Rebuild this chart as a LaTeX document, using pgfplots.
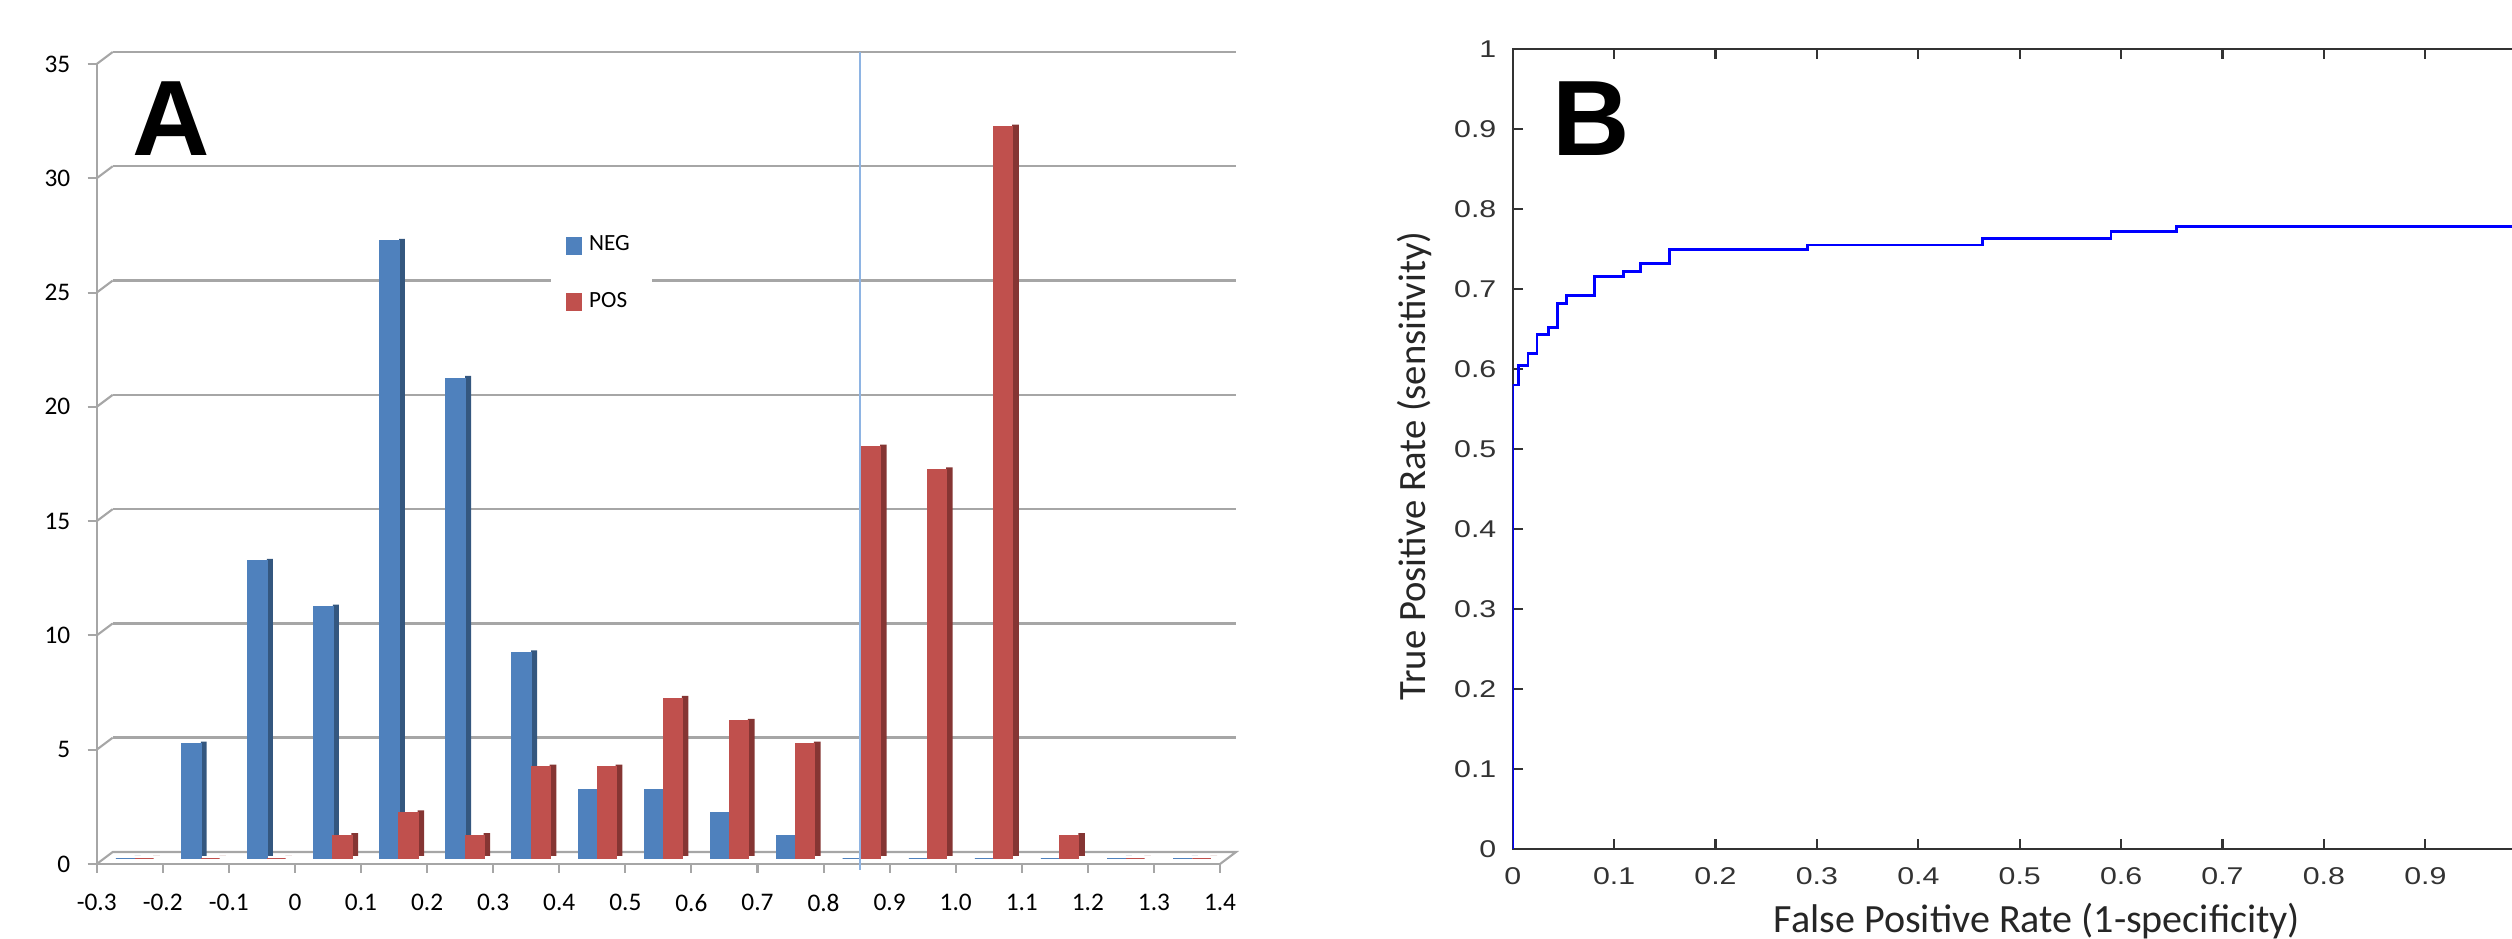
\documentclass[border=0pt]{standalone}
\usepackage{pgfplots}
\usepackage{pgfplotstable}
\pgfplotsset{compat=1.18}
\usepackage{fontspec}
\setmainfont{Carlito}
\newfontfamily\lib{Liberation Sans}
\newfontfamily\libw[FakeStretch=1.25]{Liberation Sans}
\definecolor{negc}{HTML}{4F81BD}
\definecolor{negd}{HTML}{34577F}
\definecolor{posc}{HTML}{C0504D}
\definecolor{posd}{HTML}{853533}
\definecolor{gridg}{HTML}{A6A6A6}
\definecolor{vline}{HTML}{8EB4E3}

\pgfplotstableread{
k neg pos
0 0 0
1 5 0
2 13 0
3 11 1
4 27 2
5 21 1
6 9 4
7 3 4
8 3 7
9 2 6
10 1 5
11 0 18
12 0 17
13 0 32
14 0 1
15 0 0
16 0 0
}\hist

\begin{document}
\begin{tikzpicture}
\useasboundingbox (0,0) rectangle (251.2mm,93.9mm);
\clip (0,0) rectangle (251.2mm,93.9mm);

% back wall grid of A
\begin{axis}[at={(11.27mm,8.7mm)}, anchor=south west, scale only axis,
  width=112.33mm, height=80mm, xmin=0, xmax=17, ymin=0, ymax=35,
  axis line style={draw=none}, tick style={draw=none},
  xtick=\empty, ytick={5,10,...,35}, yticklabels={},
  ymajorgrids, grid style={gridg, line width=0.7pt}]
\addplot[draw=none] coordinates {(0,0)};
\end{axis}

% histogram A
\begin{axis}[at={(9.67mm,7.5mm)}, anchor=south west, scale only axis,
  width=112.33mm, height=80mm, xmin=0, xmax=17, ymin=0, ymax=35,
  clip=false, axis lines*=left,
  axis line style={gridg, line width=0.6pt},
  tick style={gridg, line width=0.6pt}, tick align=outside, major tick length=0.9mm,
  xtick={0,...,17},
  xticklabels={-0.3,-0.2,-0.1,0,0.1,0.2,0.3,0.4,0.5,0.6,0.7,0.8,0.9,1.0,1.1,1.2,1.3,1.4},
  ytick={0,5,...,35},
  /pgf/number format/assume math mode=true,
  ticklabel style={font=\fontsize{7.2}{8}\selectfont, text=black},
  xticklabel style={yshift=-0.9mm},
  yticklabel style={xshift=-0.5mm},
  legend style={at={(0.404,0.8075)}, anchor=north west, draw=none, fill=white,
    inner xsep=1.5mm, inner ysep=1mm, font=\fontsize{6.6}{8}\selectfont,
    row sep=2.2mm, legend cell align=left},
  ]
\draw[gridg, line width=0.6pt] (axis cs:0,0) -- ++(1.6mm,1.2mm) -- ([shift={(1.6mm,1.2mm)}]axis cs:17,0) -- (axis cs:17,0);
\pgfplotsinvokeforeach{5,10,...,35}{\draw[gridg, line width=0.6pt] (axis cs:0,#1) -- ++(1.6mm,1.2mm);}
\addplot[ybar, bar width=0.09, bar shift=0.62, fill=negd, draw=none, yshift=0.8mm, forget plot] table[x=k,y=neg]{\hist};
\addplot[ybar, bar width=0.29, bar shift=0.435, fill=negc, draw=negc, line width=0.5pt, yshift=0.55mm, forget plot] table[x=k,y=neg]{\hist};
\addplot[ybar, bar width=0.1, bar shift=0.905, fill=posd, draw=none, yshift=0.8mm, forget plot] table[x=k,y=pos]{\hist};
\addplot[ybar, bar width=0.28, bar shift=0.72, fill=posc, draw=posc, line width=0.5pt, yshift=0.55mm, forget plot] table[x=k,y=pos]{\hist};
\addplot[vline, line width=0.5pt, forget plot] coordinates {(11.55,-0.26) (11.55,35.52)};
\addlegendimage{legend image code/.code={\fill[negc] (0mm,-0.8mm) rectangle (1.45mm,0.85mm);}}
\addlegendentry{NEG}
\addlegendimage{legend image code/.code={\fill[posc] (0mm,-0.8mm) rectangle (1.45mm,0.85mm);}}
\addlegendentry{POS}
\end{axis}

% ROC B
\begin{axis}[at={(151.27mm,9.0mm)}, anchor=south west, scale only axis,
  width=101.4mm, height=80mm, xmin=0, xmax=1, ymin=0, ymax=1,
  xtick={0,0.1,0.2,0.3,0.4,0.5,0.6,0.7,0.8,0.9},
  ytick={0,0.1,0.2,0.3,0.4,0.5,0.6,0.7,0.8,0.9,1},
  tick align=inside, major tick length=1mm,
  axis line style={black!80, line width=0.6pt},
  tick style={black!80, line width=0.6pt},
  /pgf/number format/assume math mode=true,
  ticklabel style={font=\libw\fontsize{6.9}{9}\selectfont, text=black!80},
  xticklabel style={yshift=-0.6mm},
  yticklabel style={xshift=-0.4mm},
  xlabel={False Positive Rate (1-specificity)},
  ylabel={True Positive Rate (sensitivity)},
  every axis x label/.style={at={(rel axis cs:0.517,-0.104)}, anchor=base, font=\fontsize{11.4}{13}\selectfont, text=black!85},
  every axis y label/.style={at={(rel axis cs:-0.0964,0.479)}, rotate=90, anchor=center, font=\fontsize{11}{12}\selectfont, text=black!85},
  ]
\addplot[const plot, blue, line width=0.8pt] coordinates {
(0,0) (0,0.58) (0.006,0.604) (0.015,0.619) (0.024,0.643) (0.035,0.652)
(0.044,0.682) (0.053,0.692) (0.081,0.716) (0.109,0.722) (0.126,0.732)
(0.155,0.749) (0.291,0.755) (0.463,0.763) (0.590,0.772) (0.655,0.778) (1.0,0.778)};
\end{axis}

\node[anchor=base west, inner sep=0, font=\lib\bfseries\fontsize{30.5}{32}\selectfont] at (13.2mm,78.3mm) {A};
\node[anchor=base west, inner sep=0, font=\lib\bfseries\fontsize{30.5}{32}\selectfont] at (155.2mm,78.3mm) {B};
\end{tikzpicture}
\end{document}
